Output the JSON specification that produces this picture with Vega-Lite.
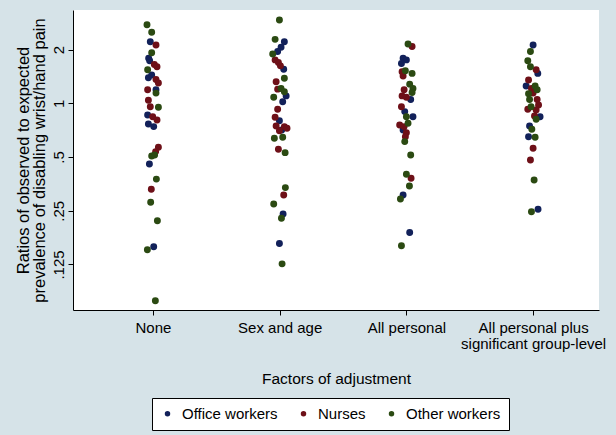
{
  "$schema": "https://vega.github.io/schema/vega-lite/v6.json",
  "width": 526,
  "height": 300,
  "autosize": {"type": "none"},
  "padding": {"left": 73, "top": 10, "right": 17, "bottom": 125},
  "background": "#D6E3E8",
  "config": {"view": {"fill": "white", "stroke": null}, "font": "Liberation Sans"},
  "data": {"values": [
    {"adjust": "None", "group": "Office workers", "x": 0.979, "ratio": 2.21},
    {"adjust": "None", "group": "Office workers", "x": 0.966, "ratio": 1.79},
    {"adjust": "None", "group": "Office workers", "x": 0.974, "ratio": 1.73},
    {"adjust": "None", "group": "Office workers", "x": 0.964, "ratio": 1.39},
    {"adjust": "None", "group": "Office workers", "x": 0.990, "ratio": 1.44},
    {"adjust": "None", "group": "Office workers", "x": 1.024, "ratio": 1.19},
    {"adjust": "None", "group": "Office workers", "x": 0.958, "ratio": 0.86},
    {"adjust": "None", "group": "Office workers", "x": 0.964, "ratio": 0.766},
    {"adjust": "None", "group": "Office workers", "x": 1.006, "ratio": 0.74},
    {"adjust": "None", "group": "Office workers", "x": 0.972, "ratio": 0.457},
    {"adjust": "None", "group": "Office workers", "x": 1.006, "ratio": 0.157},
    {"adjust": "Sex and age", "group": "Office workers", "x": 2.037, "ratio": 2.21},
    {"adjust": "Sex and age", "group": "Office workers", "x": 2.011, "ratio": 2.06},
    {"adjust": "Sex and age", "group": "Office workers", "x": 1.984, "ratio": 1.95},
    {"adjust": "Sex and age", "group": "Office workers", "x": 2.032, "ratio": 1.55},
    {"adjust": "Sex and age", "group": "Office workers", "x": 2.051, "ratio": 1.10},
    {"adjust": "Sex and age", "group": "Office workers", "x": 2.024, "ratio": 1.02},
    {"adjust": "Sex and age", "group": "Office workers", "x": 1.998, "ratio": 0.799},
    {"adjust": "Sex and age", "group": "Office workers", "x": 2.016, "ratio": 0.708},
    {"adjust": "Sex and age", "group": "Office workers", "x": 2.027, "ratio": 0.240},
    {"adjust": "Sex and age", "group": "Office workers", "x": 1.998, "ratio": 0.164},
    {"adjust": "All personal", "group": "Office workers", "x": 2.974, "ratio": 1.79},
    {"adjust": "All personal", "group": "Office workers", "x": 3.000, "ratio": 1.75},
    {"adjust": "All personal", "group": "Office workers", "x": 2.961, "ratio": 1.67},
    {"adjust": "All personal", "group": "Office workers", "x": 3.034, "ratio": 1.05},
    {"adjust": "All personal", "group": "Office workers", "x": 2.987, "ratio": 0.898},
    {"adjust": "All personal", "group": "Office workers", "x": 3.052, "ratio": 0.841},
    {"adjust": "All personal", "group": "Office workers", "x": 2.974, "ratio": 0.708},
    {"adjust": "All personal", "group": "Office workers", "x": 2.974, "ratio": 0.306},
    {"adjust": "All personal", "group": "Office workers", "x": 3.026, "ratio": 0.189},
    {"adjust": "All personal plus significant group-level", "group": "Office workers", "x": 4.000, "ratio": 2.12},
    {"adjust": "All personal plus significant group-level", "group": "Office workers", "x": 4.037, "ratio": 1.47},
    {"adjust": "All personal plus significant group-level", "group": "Office workers", "x": 3.945, "ratio": 1.25},
    {"adjust": "All personal plus significant group-level", "group": "Office workers", "x": 4.055, "ratio": 0.841},
    {"adjust": "All personal plus significant group-level", "group": "Office workers", "x": 3.972, "ratio": 0.746},
    {"adjust": "All personal plus significant group-level", "group": "Office workers", "x": 3.964, "ratio": 0.650},
    {"adjust": "All personal plus significant group-level", "group": "Office workers", "x": 4.039, "ratio": 0.255},
    {"adjust": "None", "group": "Nurses", "x": 1.024, "ratio": 2.12},
    {"adjust": "None", "group": "Nurses", "x": 1.011, "ratio": 1.65},
    {"adjust": "None", "group": "Nurses", "x": 1.032, "ratio": 1.60},
    {"adjust": "None", "group": "Nurses", "x": 1.024, "ratio": 1.36},
    {"adjust": "None", "group": "Nurses", "x": 1.043, "ratio": 1.30},
    {"adjust": "None", "group": "Nurses", "x": 0.958, "ratio": 1.19},
    {"adjust": "None", "group": "Nurses", "x": 0.964, "ratio": 1.04},
    {"adjust": "None", "group": "Nurses", "x": 0.979, "ratio": 0.957},
    {"adjust": "None", "group": "Nurses", "x": 0.998, "ratio": 0.84},
    {"adjust": "None", "group": "Nurses", "x": 1.032, "ratio": 0.806},
    {"adjust": "None", "group": "Nurses", "x": 1.043, "ratio": 0.567},
    {"adjust": "None", "group": "Nurses", "x": 1.021, "ratio": 0.536},
    {"adjust": "None", "group": "Nurses", "x": 0.987, "ratio": 0.330},
    {"adjust": "Sex and age", "group": "Nurses", "x": 1.964, "ratio": 1.75},
    {"adjust": "Sex and age", "group": "Nurses", "x": 1.990, "ratio": 1.69},
    {"adjust": "Sex and age", "group": "Nurses", "x": 2.006, "ratio": 1.62},
    {"adjust": "Sex and age", "group": "Nurses", "x": 1.972, "ratio": 1.32},
    {"adjust": "Sex and age", "group": "Nurses", "x": 1.984, "ratio": 1.20},
    {"adjust": "Sex and age", "group": "Nurses", "x": 1.984, "ratio": 0.925},
    {"adjust": "Sex and age", "group": "Nurses", "x": 1.964, "ratio": 0.835},
    {"adjust": "Sex and age", "group": "Nurses", "x": 1.972, "ratio": 0.746},
    {"adjust": "Sex and age", "group": "Nurses", "x": 2.037, "ratio": 0.740},
    {"adjust": "Sex and age", "group": "Nurses", "x": 1.998, "ratio": 0.702},
    {"adjust": "Sex and age", "group": "Nurses", "x": 2.058, "ratio": 0.725},
    {"adjust": "Sex and age", "group": "Nurses", "x": 1.990, "ratio": 0.553},
    {"adjust": "Sex and age", "group": "Nurses", "x": 2.032, "ratio": 0.306},
    {"adjust": "All personal", "group": "Nurses", "x": 3.045, "ratio": 2.08},
    {"adjust": "All personal", "group": "Nurses", "x": 2.966, "ratio": 1.50},
    {"adjust": "All personal", "group": "Nurses", "x": 2.974, "ratio": 1.42},
    {"adjust": "All personal", "group": "Nurses", "x": 2.982, "ratio": 1.19},
    {"adjust": "All personal", "group": "Nurses", "x": 2.966, "ratio": 1.10},
    {"adjust": "All personal", "group": "Nurses", "x": 3.000, "ratio": 1.08},
    {"adjust": "All personal", "group": "Nurses", "x": 2.961, "ratio": 0.957},
    {"adjust": "All personal", "group": "Nurses", "x": 2.947, "ratio": 0.756},
    {"adjust": "All personal", "group": "Nurses", "x": 2.982, "ratio": 0.740},
    {"adjust": "All personal", "group": "Nurses", "x": 3.000, "ratio": 0.684},
    {"adjust": "All personal", "group": "Nurses", "x": 2.992, "ratio": 0.650},
    {"adjust": "All personal", "group": "Nurses", "x": 3.037, "ratio": 0.380},
    {"adjust": "All personal plus significant group-level", "group": "Nurses", "x": 4.024, "ratio": 1.54},
    {"adjust": "All personal plus significant group-level", "group": "Nurses", "x": 3.964, "ratio": 1.35},
    {"adjust": "All personal plus significant group-level", "group": "Nurses", "x": 3.987, "ratio": 1.21},
    {"adjust": "All personal plus significant group-level", "group": "Nurses", "x": 4.000, "ratio": 1.14},
    {"adjust": "All personal plus significant group-level", "group": "Nurses", "x": 4.032, "ratio": 1.05},
    {"adjust": "All personal plus significant group-level", "group": "Nurses", "x": 4.043, "ratio": 0.978},
    {"adjust": "All personal plus significant group-level", "group": "Nurses", "x": 3.958, "ratio": 0.925},
    {"adjust": "All personal plus significant group-level", "group": "Nurses", "x": 4.024, "ratio": 0.917},
    {"adjust": "All personal plus significant group-level", "group": "Nurses", "x": 4.011, "ratio": 0.849},
    {"adjust": "All personal plus significant group-level", "group": "Nurses", "x": 4.000, "ratio": 0.560},
    {"adjust": "All personal plus significant group-level", "group": "Nurses", "x": 3.979, "ratio": 0.481},
    {"adjust": "None", "group": "Other workers", "x": 0.953, "ratio": 2.75},
    {"adjust": "None", "group": "Other workers", "x": 0.990, "ratio": 2.50},
    {"adjust": "None", "group": "Other workers", "x": 0.990, "ratio": 1.92},
    {"adjust": "None", "group": "Other workers", "x": 0.958, "ratio": 1.54},
    {"adjust": "None", "group": "Other workers", "x": 1.024, "ratio": 1.14},
    {"adjust": "None", "group": "Other workers", "x": 1.043, "ratio": 0.95},
    {"adjust": "None", "group": "Other workers", "x": 0.990, "ratio": 0.507},
    {"adjust": "None", "group": "Other workers", "x": 1.013, "ratio": 0.513},
    {"adjust": "None", "group": "Other workers", "x": 1.027, "ratio": 0.376},
    {"adjust": "None", "group": "Other workers", "x": 0.982, "ratio": 0.279},
    {"adjust": "None", "group": "Other workers", "x": 1.035, "ratio": 0.220},
    {"adjust": "None", "group": "Other workers", "x": 0.956, "ratio": 0.151},
    {"adjust": "None", "group": "Other workers", "x": 1.019, "ratio": 0.0783},
    {"adjust": "Sex and age", "group": "Other workers", "x": 1.998, "ratio": 2.93},
    {"adjust": "Sex and age", "group": "Other workers", "x": 1.964, "ratio": 2.28},
    {"adjust": "Sex and age", "group": "Other workers", "x": 1.945, "ratio": 1.89},
    {"adjust": "Sex and age", "group": "Other workers", "x": 2.037, "ratio": 1.38},
    {"adjust": "Sex and age", "group": "Other workers", "x": 2.011, "ratio": 1.21},
    {"adjust": "Sex and age", "group": "Other workers", "x": 2.037, "ratio": 1.16},
    {"adjust": "Sex and age", "group": "Other workers", "x": 1.953, "ratio": 1.08},
    {"adjust": "Sex and age", "group": "Other workers", "x": 1.958, "ratio": 0.637},
    {"adjust": "Sex and age", "group": "Other workers", "x": 2.024, "ratio": 0.645},
    {"adjust": "Sex and age", "group": "Other workers", "x": 2.043, "ratio": 0.529},
    {"adjust": "Sex and age", "group": "Other workers", "x": 2.045, "ratio": 0.337},
    {"adjust": "Sex and age", "group": "Other workers", "x": 1.953, "ratio": 0.273},
    {"adjust": "Sex and age", "group": "Other workers", "x": 2.014, "ratio": 0.227},
    {"adjust": "Sex and age", "group": "Other workers", "x": 2.019, "ratio": 0.126},
    {"adjust": "All personal", "group": "Other workers", "x": 3.013, "ratio": 2.15},
    {"adjust": "All personal", "group": "Other workers", "x": 2.992, "ratio": 1.52},
    {"adjust": "All personal", "group": "Other workers", "x": 3.045, "ratio": 1.47},
    {"adjust": "All personal", "group": "Other workers", "x": 3.026, "ratio": 1.28},
    {"adjust": "All personal", "group": "Other workers", "x": 3.052, "ratio": 1.21},
    {"adjust": "All personal", "group": "Other workers", "x": 3.045, "ratio": 1.15},
    {"adjust": "All personal", "group": "Other workers", "x": 3.000, "ratio": 0.841},
    {"adjust": "All personal", "group": "Other workers", "x": 3.013, "ratio": 0.773},
    {"adjust": "All personal", "group": "Other workers", "x": 2.987, "ratio": 0.610},
    {"adjust": "All personal", "group": "Other workers", "x": 3.034, "ratio": 0.513},
    {"adjust": "All personal", "group": "Other workers", "x": 3.000, "ratio": 0.400},
    {"adjust": "All personal", "group": "Other workers", "x": 3.024, "ratio": 0.344},
    {"adjust": "All personal", "group": "Other workers", "x": 2.953, "ratio": 0.291},
    {"adjust": "All personal", "group": "Other workers", "x": 2.961, "ratio": 0.159},
    {"adjust": "All personal plus significant group-level", "group": "Other workers", "x": 3.979, "ratio": 1.95},
    {"adjust": "All personal plus significant group-level", "group": "Other workers", "x": 3.958, "ratio": 1.73},
    {"adjust": "All personal plus significant group-level", "group": "Other workers", "x": 3.979, "ratio": 1.60},
    {"adjust": "All personal plus significant group-level", "group": "Other workers", "x": 4.016, "ratio": 1.25},
    {"adjust": "All personal plus significant group-level", "group": "Other workers", "x": 4.032, "ratio": 1.19},
    {"adjust": "All personal plus significant group-level", "group": "Other workers", "x": 3.964, "ratio": 1.13},
    {"adjust": "All personal plus significant group-level", "group": "Other workers", "x": 3.972, "ratio": 1.05},
    {"adjust": "All personal plus significant group-level", "group": "Other workers", "x": 3.984, "ratio": 0.957},
    {"adjust": "All personal plus significant group-level", "group": "Other workers", "x": 4.024, "ratio": 0.814},
    {"adjust": "All personal plus significant group-level", "group": "Other workers", "x": 3.990, "ratio": 0.715},
    {"adjust": "All personal plus significant group-level", "group": "Other workers", "x": 4.016, "ratio": 0.645},
    {"adjust": "All personal plus significant group-level", "group": "Other workers", "x": 4.008, "ratio": 0.372},
    {"adjust": "All personal plus significant group-level", "group": "Other workers", "x": 3.987, "ratio": 0.247}
  ]},
  "mark": {"type": "circle", "size": 48, "opacity": 1},
  "encoding": {
    "x": {
      "field": "x", "type": "quantitative",
      "scale": {"domain": [0.369, 4.52], "nice": false, "zero": false},
      "axis": {
        "values": [1, 2, 3, 4],
        "labelExpr": "datum.value == 1 ? 'None' : datum.value == 2 ? 'Sex and age' : datum.value == 3 ? 'All personal' : ['All personal plus', 'significant group-level']",
        "title": "Factors of adjustment",
        "grid": false, "tickSize": 5, "tickColor": "black", "domainColor": "black",
        "labelColor": "black", "labelFontSize": 15, "labelPadding": 5, "labelLineHeight": 16,
        "labelFlush": false, "labelOverlap": false, "labelBaseline": "top",
        "titleFontSize": 15.5, "titleFontWeight": "normal", "titleColor": "black", "titlePadding": 20
      }
    },
    "y": {
      "field": "ratio", "type": "quantitative",
      "scale": {"type": "log", "base": 2, "domain": [0.0695, 3.33], "nice": false},
      "axis": {
        "values": [0.125, 0.25, 0.5, 1, 2],
        "labelExpr": "datum.value < 1 ? slice(toString(datum.value), 1) : toString(datum.value)",
        "labelAngle": 270, "labelAlign": "center", "labelBaseline": "bottom",
        "title": ["Ratios of observed to expected", "prevalence of disabling wrist/hand pain"],
        "grid": false, "tickSize": 5, "tickColor": "black", "domainColor": "black",
        "labelColor": "black", "labelFontSize": 15, "labelPadding": 2,
        "titleFontSize": 16.5, "titleFontWeight": "normal", "titleColor": "black", "titlePadding": 4, "titleLineHeight": 16
      }
    },
    "color": {
      "field": "group", "type": "nominal",
      "scale": {"domain": ["Office workers", "Nurses", "Other workers"], "range": ["#12215A", "#6E1018", "#2B4A12"]},
      "legend": {
        "title": null, "orient": "none", "legendX": 79, "legendY": 388, "direction": "horizontal",
        "strokeColor": "black", "fillColor": "white", "padding": 8,
        "labelFontSize": 15, "labelColor": "black", "symbolType": "circle", "symbolSize": 30,
        "symbolStrokeWidth": 0, "labelOffset": 7, "columnPadding": 18
      }
    }
  }
}
